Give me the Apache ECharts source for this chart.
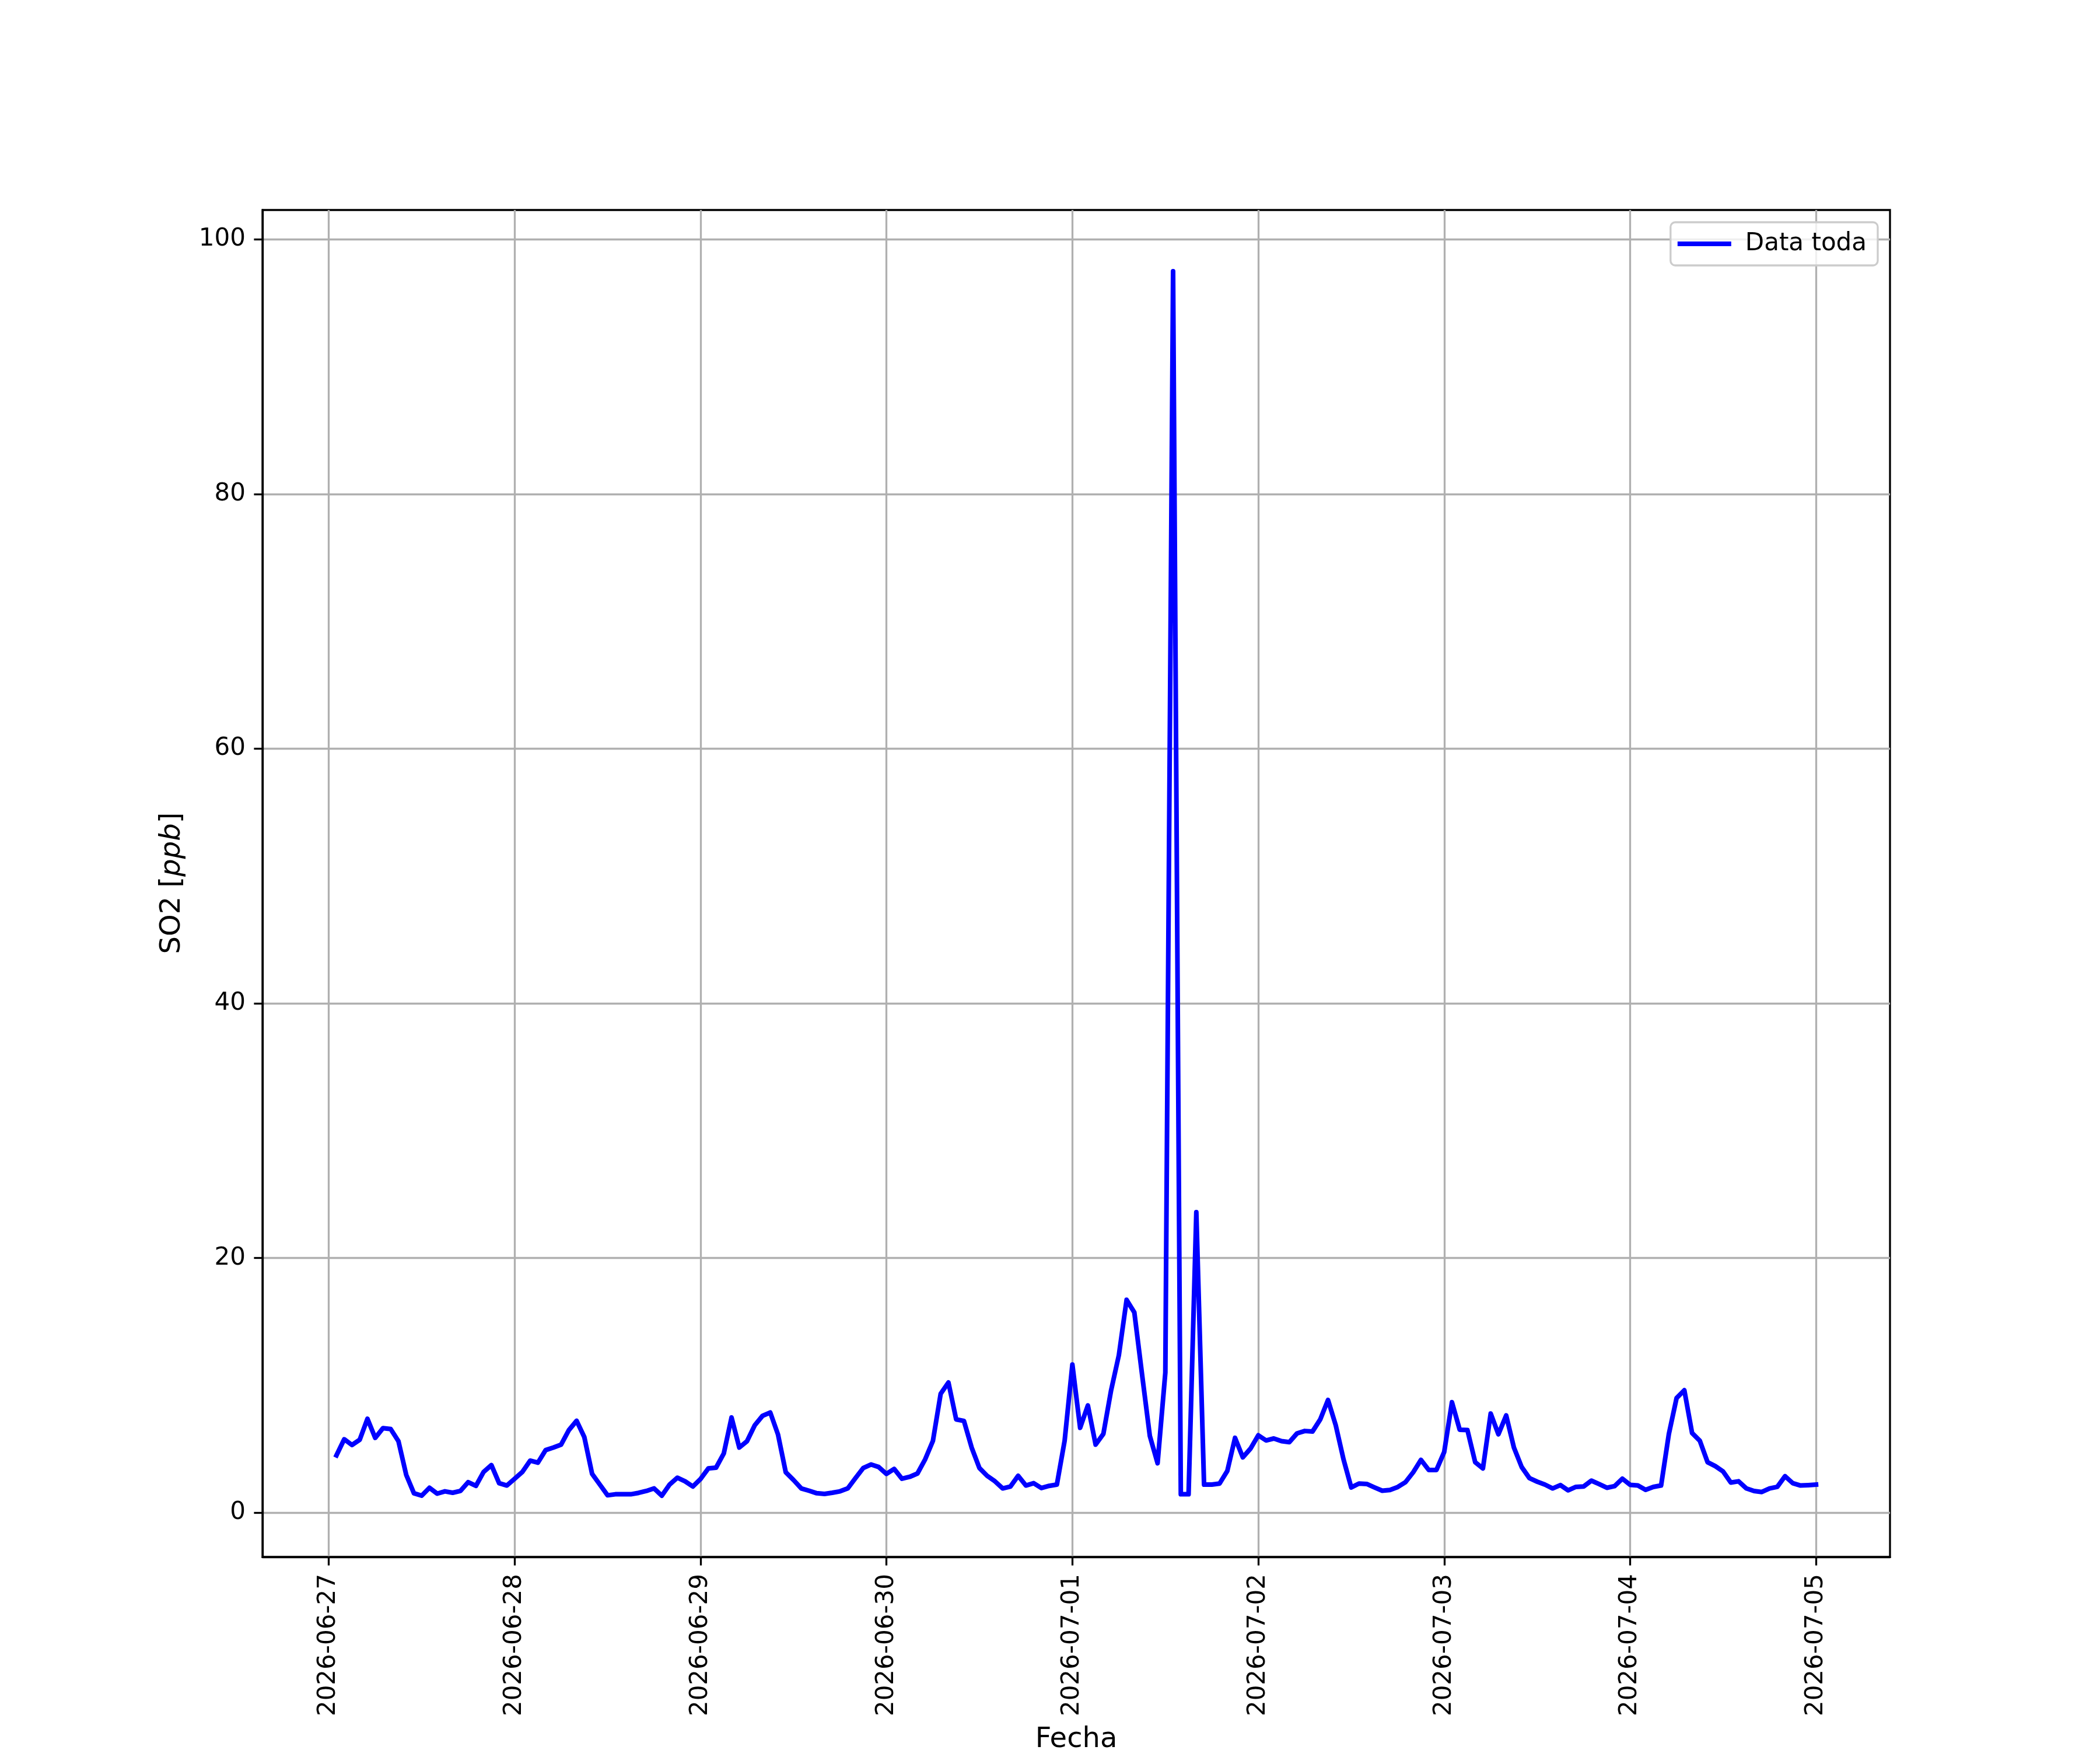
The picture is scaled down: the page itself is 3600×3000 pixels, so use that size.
<!DOCTYPE html>
<html>
<head>
<meta charset="utf-8">
<script src="https://cdn.jsdelivr.net/npm/echarts@6/dist/echarts.min.js"></script>
<style>html,body{margin:0;padding:0;background:#fff}#c{width:3600px;height:3000px}</style>
</head>
<body>
<div id="c"></div>
<script>
// Hourly SO2 samples, first sample 2026-06-27 01:00, last 2026-07-05 00:00
const firstSampleHour = 1; // hours after 2026-06-27 00:00
const so2 = [
  // 2026-06-27 01..23, 06-28 00
  4.51, 5.77, 5.32, 5.73, 7.38, 5.88, 6.64, 6.57, 5.62, 2.98, 1.53, 1.34, 1.96, 1.50, 1.68, 1.57, 1.71, 2.40, 2.11, 3.21, 3.74, 2.32, 2.14, 2.67,
  // 2026-06-28
  3.21, 4.09, 3.93, 4.92, 5.12, 5.35, 6.49, 7.22, 5.93, 3.05, 2.21, 1.37, 1.45, 1.45, 1.45, 1.56, 1.71, 1.91, 1.34, 2.21, 2.75, 2.47, 2.06, 2.65,
  // 2026-06-29
  3.48, 3.54, 4.66, 7.48, 5.12, 5.62, 6.87, 7.61, 7.87, 6.14, 3.18, 2.57, 1.91, 1.73, 1.53, 1.48, 1.57, 1.68, 1.91, 2.72, 3.51, 3.79, 3.59, 3.05,
  // 2026-06-30
  3.44, 2.67, 2.82, 3.08, 4.20, 5.65, 9.35, 10.23, 7.33, 7.21, 5.11, 3.51, 2.90, 2.47, 1.91, 2.06, 2.90, 2.14, 2.32, 1.94, 2.11, 2.21, 5.65, 11.64,
  // 2026-07-01
  6.67, 8.43, 5.35, 6.19, 9.62, 12.37, 16.72, 15.73, 10.84, 6.03, 3.89, 11.0, 97.5, 1.45, 1.45, 23.6, 2.21, 2.21, 2.29, 3.28, 5.88, 4.35, 5.04, 6.08,
  // 2026-07-02
  5.68, 5.83, 5.62, 5.54, 6.23, 6.42, 6.38, 7.33, 8.86, 6.87, 4.20, 1.99, 2.29, 2.26, 1.99, 1.73, 1.79, 2.02, 2.40, 3.18, 4.15, 3.36, 3.36, 4.77,
  // 2026-07-03
  8.68, 6.52, 6.49, 3.97, 3.48, 7.79, 6.16, 7.64, 5.12, 3.59, 2.72, 2.44, 2.21, 1.91, 2.17, 1.76, 2.03, 2.06, 2.52, 2.25, 1.96, 2.09, 2.67, 2.19,
  // 2026-07-04
  2.14, 1.80, 2.03, 2.14, 6.18, 9.01, 9.62, 6.26, 5.65, 3.97, 3.66, 3.24, 2.37, 2.47, 1.91, 1.71, 1.63, 1.91, 2.03, 2.87, 2.32, 2.14, 2.17, 2.21
];
const xTickLabels = ['2026-06-27','2026-06-28','2026-06-29','2026-06-30','2026-07-01','2026-07-02','2026-07-03','2026-07-04','2026-07-05'];
const xTickHours = [0, 24, 48, 72, 96, 120, 144, 168, 192];
const yTicks = [0, 20, 40, 60, 80, 100];
const seriesName = 'Data toda';

const FONT = 'DejaVu Sans';
const lw = 3.3;
const points = so2.map((v, i) => [firstSampleHour + i, v]);

const chart = echarts.init(document.getElementById('c'), null, {renderer: 'canvas'});
chart.setOption({
  animation: false,
  backgroundColor: '#ffffff',
  grid: {left: 450, right: 360, top: 360, bottom: 331, show: true, borderColor: '#000', borderWidth: lw, backgroundColor: 'transparent', containLabel: false},
  xAxis: {
    type: 'value', min: -8.55, max: 201.55,
    axisLine: {show: true, onZero: false, lineStyle: {color: '#000', width: lw}},
    axisTick: {show: true, customValues: xTickHours, length: 14.6, inside: false, lineStyle: {color: '#000', width: lw}},
    axisLabel: {
      customValues: xTickHours, rotate: 90, margin: 29,
      fontSize: 42, fontFamily: FONT, color: '#000',
      formatter: v => { const k = xTickHours.indexOf(Math.round(v)); return k >= 0 ? xTickLabels[k] : ''; }
    },
    splitLine: {show: true, lineStyle: {color: '#b0b0b0', width: lw}}
  },
  yAxis: {
    type: 'value', min: -3.47, max: 102.31,
    axisLine: {show: true, onZero: false, lineStyle: {color: '#000', width: lw}},
    axisTick: {show: true, customValues: yTicks, length: 14.6, inside: false, lineStyle: {color: '#000', width: lw}},
    axisLabel: {customValues: yTicks, margin: 29, fontSize: 42, fontFamily: FONT, color: '#000', formatter: v => String(Math.round(v))},
    splitLine: {show: true, lineStyle: {color: '#b0b0b0', width: lw}}
  },
  legend: {
    show: true, right: 381, top: 381, orient: 'vertical',
    data: [seriesName], icon: 'rect', itemWidth: 92, itemHeight: 8,
    padding: [16, 19, 16, 12],
    backgroundColor: 'rgba(255,255,255,0.8)', borderColor: '#cccccc', borderWidth: 3.3, borderRadius: 8,
    textStyle: {fontSize: 42, fontFamily: FONT, color: '#000', padding: [0, 0, 0, 19]}
  },
  series: [{
    type: 'line', name: seriesName, data: points,
    showSymbol: false, symbol: 'none', clip: true,
    itemStyle: {color: '#0000ff'},
    lineStyle: {color: '#0000ff', width: 8, join: 'round', cap: 'square'}
  }],
  graphic: [
    {type: 'text', x: 1845, y: 2983, style: {text: 'Fecha', font: '48px "DejaVu Sans"', fill: '#000', align: 'center', verticalAlign: 'middle'}},
    {type: 'text', x: 296, y: 1514, rotation: Math.PI / 2,
      style: {text: 'SO2 [{i|ppb}]', font: '48px "DejaVu Sans"', fill: '#000', align: 'center', verticalAlign: 'middle',
        rich: {i: {fontStyle: 'italic', fontSize: 48, fontFamily: FONT, fill: '#000'}}}}
  ]
});
</script>
</body>
</html>
